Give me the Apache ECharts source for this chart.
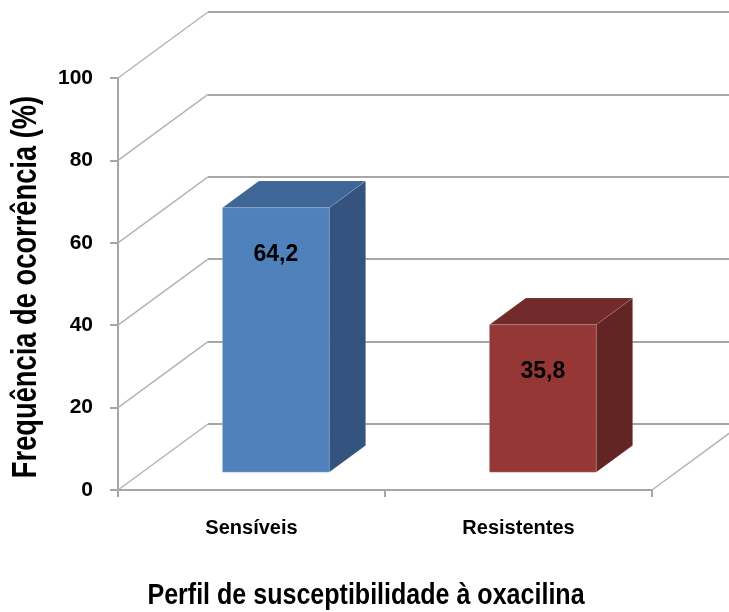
<!DOCTYPE html>
<html><head><meta charset="utf-8">
<script src="https://cdn.jsdelivr.net/npm/echarts@6/dist/echarts.min.js"></script>
<style>html,body{margin:0;padding:0;background:#fff}#c{width:729px;height:612px}</style>
</head><body><div id="c"></div>
<script>
// ---- data ----
const categories = ['Sensíveis', 'Resistentes'];
const values = [64.2, 35.8];
const yTicks = [0, 20, 40, 60, 80, 100];
const xTitle = 'Perfil de susceptibilidade à oxacilina';
const yTitle = 'Frequência de ocorrência (%)';

// ---- style / layout ----
const barColors = [
  ['#4f81bd', '#3e6797', '#34537e'],
  ['#953735', '#722b2a', '#632524']
];
const FRONT = {left: 118, top: 78, width: 534, height: 412};
const BACK = {left: 208, top: 12, width: 560, height: 412};
const DEPTH = [BACK.left - FRONT.left, (BACK.top + BACK.height) - (FRONT.top + FRONT.height)];
const BAR_FRONT = 0.27, BAR_BACK = 0.675, BAR_WIDTH = 0.4;
const GRAY = '#a6a6a6';
const SANS = '"Liberation Sans", Arial, sans-serif';

const chart = echarts.init(document.getElementById('c'), null, {renderer: 'canvas'});

function wallRender(params, api) {
  const idx = api.value(0), v = api.value(1);
  const p = api.coord([idx, v]);
  const half = api.size([1, 0])[0] / 2;
  const x0 = p[0] - half;
  const children = [{
    type: 'line',
    shape: {x1: x0, y1: p[1], x2: x0 + DEPTH[0], y2: p[1] + DEPTH[1]},
    style: {stroke: '#b4b4b4', lineWidth: 1.5}
  }];
  if (v === 0) {
    const pr = api.coord([categories.length - 1, 0]);
    const xr = pr[0] + half;
    children.push({
      type: 'line',
      shape: {x1: xr, y1: pr[1], x2: xr + DEPTH[0], y2: pr[1] + DEPTH[1]},
      style: {stroke: '#b4b4b4', lineWidth: 1.5}
    });
  }
  return {type: 'group', children};
}

function barRender(params, api) {
  const idx = api.value(0), v = api.value(1);
  const base = api.coord([idx, 0]);
  const top = api.coord([idx, v]);
  const band = api.size([1, 0])[0];
  const w = band * BAR_WIDTH;
  const o0 = [DEPTH[0] * BAR_FRONT, DEPTH[1] * BAR_FRONT];
  const o1 = [DEPTH[0] * BAR_BACK, DEPTH[1] * BAR_BACK];
  const xl = base[0] - w / 2 + o0[0], xr = base[0] + w / 2 + o0[0];
  const yb = base[1] + o0[1], yt = top[1] + o0[1];
  const dx = o1[0] - o0[0], dy = o1[1] - o0[1];
  const c = barColors[idx];
  const edge = 'rgba(255,255,255,0.12)';
  return {
    type: 'group',
    children: [
      {type: 'polygon', shape: {points: [[xr, yt], [xr + dx, yt + dy], [xr + dx, yb + dy], [xr, yb]]},
       style: {fill: c[2], stroke: edge, lineWidth: 1}},
      {type: 'polygon', shape: {points: [[xl, yt], [xr, yt], [xr + dx, yt + dy], [xl + dx, yt + dy]]},
       style: {fill: c[1], stroke: edge, lineWidth: 1}},
      {type: 'rect', shape: {x: xl, y: yt, width: w, height: yb - yt},
       style: {fill: c[0], stroke: 'rgba(255,255,255,0.18)', lineWidth: 1}},
      {type: 'text', style: {
        text: v.toFixed(1).replace('.', ','), x: (xl + xr) / 2, y: yt + 47,
        align: 'center', verticalAlign: 'middle',
        fontSize: 23, fontWeight: 'bold', fontFamily: SANS, fill: '#000'}}
    ]
  };
}

chart.setOption({
  animation: false,
  backgroundColor: '#fff',
  grid: [
    {left: FRONT.left, top: FRONT.top, width: FRONT.width, height: FRONT.height},
    {left: BACK.left, top: BACK.top, width: BACK.width, height: BACK.height}
  ],
  xAxis: [
    {
      gridIndex: 0, type: 'category', data: categories,
      axisLine: {show: true, lineStyle: {color: GRAY, width: 2}},
      axisTick: {show: true, length: 7, lineStyle: {color: GRAY, width: 2}},
      axisLabel: {margin: 28, fontSize: 20, fontWeight: 'bold', fontFamily: SANS, color: '#000'}
    },
    {gridIndex: 1, type: 'category', data: categories, show: false}
  ],
  yAxis: [
    {
      gridIndex: 0, type: 'value', min: 0, max: 100, interval: 20,
      axisLine: {show: true, lineStyle: {color: GRAY, width: 2}},
      axisTick: {show: true, length: 8, lineStyle: {color: GRAY, width: 2}},
      splitLine: {show: false},
      axisLabel: {margin: 25, fontSize: 21, fontWeight: 'bold', fontFamily: SANS, color: '#000'}
    },
    {
      gridIndex: 1, type: 'value', min: 0, max: 100, interval: 20,
      axisLine: {show: false}, axisTick: {show: false}, axisLabel: {show: false},
      splitLine: {show: true, lineStyle: {color: GRAY, width: 2}}
    }
  ],
  graphic: [
    {
      type: 'text', x: 366, y: 596, scaleX: 0.835, silent: true,
      style: {text: xTitle, align: 'center', verticalAlign: 'middle',
              fontSize: 30, fontWeight: 'bold', fontFamily: SANS, fill: '#000'}
    },
    {
      type: 'text', x: 26, y: 287, rotation: Math.PI / 2, scaleX: 0.78, silent: true,
      style: {text: yTitle, align: 'center', verticalAlign: 'middle',
              fontSize: 35, fontWeight: 'bold', fontFamily: SANS, fill: '#000'}
    }
  ],
  series: [
    {
      type: 'custom', xAxisIndex: 0, yAxisIndex: 0, clip: false, z: 1,
      renderItem: wallRender, silent: true,
      data: yTicks.map(v => [0, v])
    },
    {
      type: 'custom', xAxisIndex: 0, yAxisIndex: 0, clip: false, z: 3,
      renderItem: barRender,
      data: values.map((v, i) => [i, v])
    }
  ]
});
</script>
</body></html>
